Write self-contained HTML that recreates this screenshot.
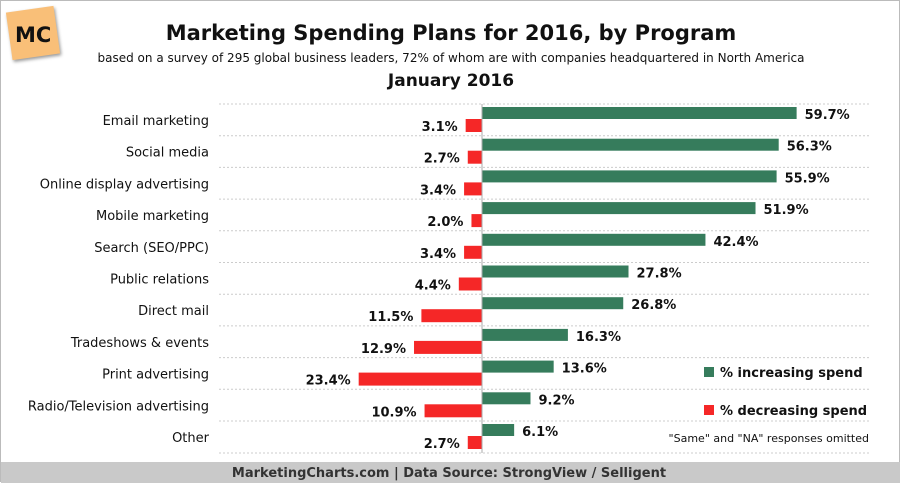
<!DOCTYPE html>
<html><head><style>
body{margin:0;width:900px;height:482px;overflow:hidden;background:#fff;font-family:"DejaVu Sans","Liberation Sans",sans-serif;}
.wrap{position:relative;width:898px;height:480px;border:1px solid #bbb;}
.t{position:absolute;white-space:nowrap;}
</style></head><body><div class="wrap">
<div style="position:absolute;left:8px;top:8px;width:48px;height:48px;background:#f9bf78;transform:rotate(-8deg);box-shadow:1px 2px 3px #999;"></div>
<div class="t" style="left:14px;top:22px;font-weight:bold;font-size:21px;color:#111;">MC</div>
<div class="t" style="left:0;width:900px;text-align:center;top:20px;font-weight:bold;font-size:21px;color:#111;">Marketing Spending Plans for 2016, by Program</div>
<div class="t" style="left:0;width:900px;text-align:center;top:50px;font-size:12px;color:#111;">based on a survey of 295 global business leaders, 72% of whom are with companies headquartered in North America</div>
<div class="t" style="left:0;width:900px;text-align:center;top:70px;font-weight:bold;font-size:17px;color:#111;">January 2016</div>
<svg width="900" height="482" style="position:absolute;left:0;top:0" font-family="DejaVu Sans, Liberation Sans, sans-serif">
<g id="g"></g>
<rect x="-1" y="461" width="902" height="22" fill="#c9c9c9"/>
<text x="448" y="476" text-anchor="middle" font-weight="bold" font-size="13" fill="#333">MarketingCharts.com | Data Source: StrongView / Selligent</text>
<rect x="703" y="366" width="10" height="10" fill="#367c5c"/>
<text x="719" y="376" font-weight="bold" font-size="13" fill="#111">% increasing spend</text>
<rect x="703" y="404" width="10" height="10" fill="#f52727"/>
<text x="719" y="414" font-weight="bold" font-size="13" fill="#111">% decreasing spend</text>
<text x="868" y="441" text-anchor="end" font-size="11" fill="#111">"Same" and "NA" responses omitted</text>
</svg>
<script>
var d=[["Email marketing",59.7,3.1],["Social media",56.3,2.7],["Online display advertising",55.9,3.4],["Mobile marketing",51.9,2.0],["Search (SEO/PPC)",42.4,3.4],["Public relations",27.8,4.4],["Direct mail",26.8,11.5],["Tradeshows & events",16.3,12.9],["Print advertising",13.6,23.4],["Radio/Television advertising",9.2,10.9],["Other",6.1,2.7]];
var s='',ax=481,k=5.27;
for(var i=0;i<d.length;i++){var y=103+i*31.7;
s+='<line x1="218" x2="870" y1="'+y+'" y2="'+y+'" stroke="#ccc" stroke-dasharray="2,2"/>';
s+='<text x="208" y="'+(y+21)+'" text-anchor="end" font-size="13" fill="#111">'+d[i][0].replace('&','&amp;')+'</text>';
var g=d[i][1]*k,r=d[i][2]*k;
s+='<rect x="'+ax+'" y="'+(y+3)+'" width="'+g+'" height="12" fill="#367c5c"/>';
s+='<rect x="'+(ax-r)+'" y="'+(y+15)+'" width="'+r+'" height="13" fill="#f52727"/>';
s+='<text x="'+(ax+g+8)+'" y="'+(y+15)+'" font-weight="bold" font-size="13" fill="#111">'+d[i][1].toFixed(1)+'%</text>';
s+='<text x="'+(ax-r-8)+'" y="'+(y+27)+'" text-anchor="end" font-weight="bold" font-size="13" fill="#111">'+d[i][2].toFixed(1)+'%</text>';}
s+='<line x1="218" x2="870" y1="452" y2="452" stroke="#ccc" stroke-dasharray="2,2"/>';
s+='<line x1="'+ax+'" x2="'+ax+'" y1="103" y2="452" stroke="#aaa"/>';
document.getElementById('g').innerHTML=s;
</script>
</div></body></html>
